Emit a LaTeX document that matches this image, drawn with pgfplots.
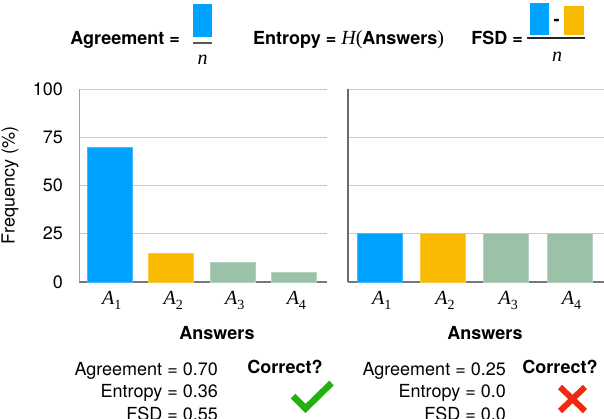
\documentclass[border=0pt]{standalone}
\usepackage{pgfplots}
\pgfplotsset{compat=1.18}
\usepackage{fontspec}
\setmainfont{TeX Gyre Heros}
\newfontfamily\serif{Liberation Serif}
\definecolor{cblue}{HTML}{00A2FF}
\definecolor{corange}{HTML}{F8BA00}
\definecolor{cgreen}{HTML}{9BC2A8}
\definecolor{gridgray}{HTML}{C8C8C8}
\definecolor{axgray}{HTML}{777777}
\definecolor{okgreen}{HTML}{22B20E}
\definecolor{badred}{HTML}{EE2A10}
\newcommand{\fs}{\fontsize{18}{21.6}\selectfont}
\newcommand{\Ai}[1]{{\serif\itshape A}\raisebox{-4.5pt}{\serif\fontsize{14}{16}\selectfont #1}}
\begin{document}
\begin{tikzpicture}[x=1pt,y=1pt]
\path[use as bounding box] (0,0) rectangle (604,418);
\pgfplotsset{
  common/.style={
    scale only axis, anchor=south west, height=193pt,
    ymin=0, ymax=100, ytick={0,25,50,75,100},
    xtick={0,1,2,3},
    xticklabels={\Ai{1},\Ai{2},\Ai{3},\Ai{4}},
    axis x line*=bottom, axis y line*=left,
    ymajorgrids, grid style={color=gridgray, line width=0.8pt},
    x axis line style={color=axgray, line width=2pt},
    major tick length=0pt,
    ybar, bar width=45pt,
    tick label style={font=\fs},
    xticklabel style={font=\fontsize{20}{24}\selectfont, anchor=north, inner sep=0pt, yshift=-9.5pt, xshift=2pt},
    /pgf/number format/assume math mode=true,
    xlabel={\textbf{Answers}},
    xlabel style={font=\fs, at={(axis description cs:0.5,0)}, anchor=center, yshift=-51pt},
  }
}
\begin{axis}[common, at={(79pt,136pt)}, width=248pt, xmin=-0.5, xmax=3.53,
  y axis line style={color=gridgray!80!black, line width=1pt},
  yticklabel style={anchor=east, inner sep=0pt, xshift=-16pt},
  xlabel style={xshift=14pt},
  ylabel={Frequency (\%)},
  ylabel style={font=\fs, at={(axis description cs:-0.2782,0.5)}, anchor=center},
]
\addplot[bar shift=0pt, fill=cblue, draw=cblue!75!white, line width=0.8pt] coordinates {(0,70)};
\addplot[bar shift=0pt, fill=corange, draw=corange!75!white, line width=0.8pt] coordinates {(1,15)};
\addplot[bar shift=0pt, fill=cgreen, draw=cgreen!75!white, line width=0.8pt] coordinates {(2,10) (3,5)};
\end{axis}
\begin{axis}[common, at={(348pt,136pt)}, width=257pt, xmin=-0.5, xmax=3.56,
  y axis line style={color=axgray!90!black, line width=2pt},
  yticklabels={},
  xlabel style={xshift=8.5pt},
]
\addplot[bar shift=0pt, fill=cblue, draw=cblue!75!white, line width=0.8pt] coordinates {(0,25)};
\addplot[bar shift=0pt, fill=corange, draw=corange!75!white, line width=0.8pt] coordinates {(1,25)};
\addplot[bar shift=0pt, fill=cgreen, draw=cgreen!75!white, line width=0.8pt] coordinates {(2,25) (3,25)};
\end{axis}
% top formulas
\node[anchor=base east, inner sep=0pt, font=\fs] at (180,373) {\textbf{Agreement =}};
\fill[cblue] (193,414) rectangle (212,381);
\draw[line width=2pt, color=black!65] (193,375.3) -- (212,375.3);
\node[font=\fontsize{20}{24}\selectfont, inner sep=0pt] at (202.5,358) {\serif\itshape n};
\node[anchor=base west, inner sep=0pt, font=\fs] at (253,373) {\textbf{Entropy =} {\serif\fontsize{20}{24}\selectfont\itshape H\upshape(}\textbf{Answers}{\serif\fontsize{20}{24}\selectfont)}};
\node[anchor=base east, inner sep=0pt, font=\fs] at (523,373) {\textbf{FSD =}};
\fill[cblue] (530,415) rectangle (549,383);
\node[font=\fs, inner sep=0pt] at (556.7,395.3) {\textbf{-}};
\fill[corange] (564,412) rectangle (584,383);
\draw[line width=1.5pt, color=black!85] (527,380) -- (585,380);
\node[font=\fontsize{20}{24}\selectfont, inner sep=0pt] at (557,361) {\serif\itshape n};
% bottom texts
\node[anchor=base east, inner sep=0pt, font=\fs] at (218,43) {Agreement = 0.70};
\node[anchor=base east, inner sep=0pt, font=\fs] at (218,20.7) {Entropy = 0.36};
\node[anchor=base east, inner sep=0pt, font=\fs] at (218,-2.5) {FSD = 0.55};
\node[anchor=base, inner sep=0pt, font=\fs] at (285,45) {\textbf{Correct?}};
\node[anchor=base east, inner sep=0pt, font=\fs] at (506,43) {Agreement = 0.25};
\node[anchor=base east, inner sep=0pt, font=\fs] at (506,20.7) {Entropy = 0.0};
\node[anchor=base east, inner sep=0pt, font=\fs] at (506,-2.5) {FSD = 0.0};
\node[anchor=base, inner sep=0pt, font=\fs] at (560,45) {\textbf{Correct?}};
\draw[okgreen, line width=6.5pt] (293,22) -- (305.5,9.5) -- (331.5,35);
\draw[badred, line width=6pt] (560,31) -- (585,7) (560,7) -- (585,31);
\end{tikzpicture}
\end{document}
